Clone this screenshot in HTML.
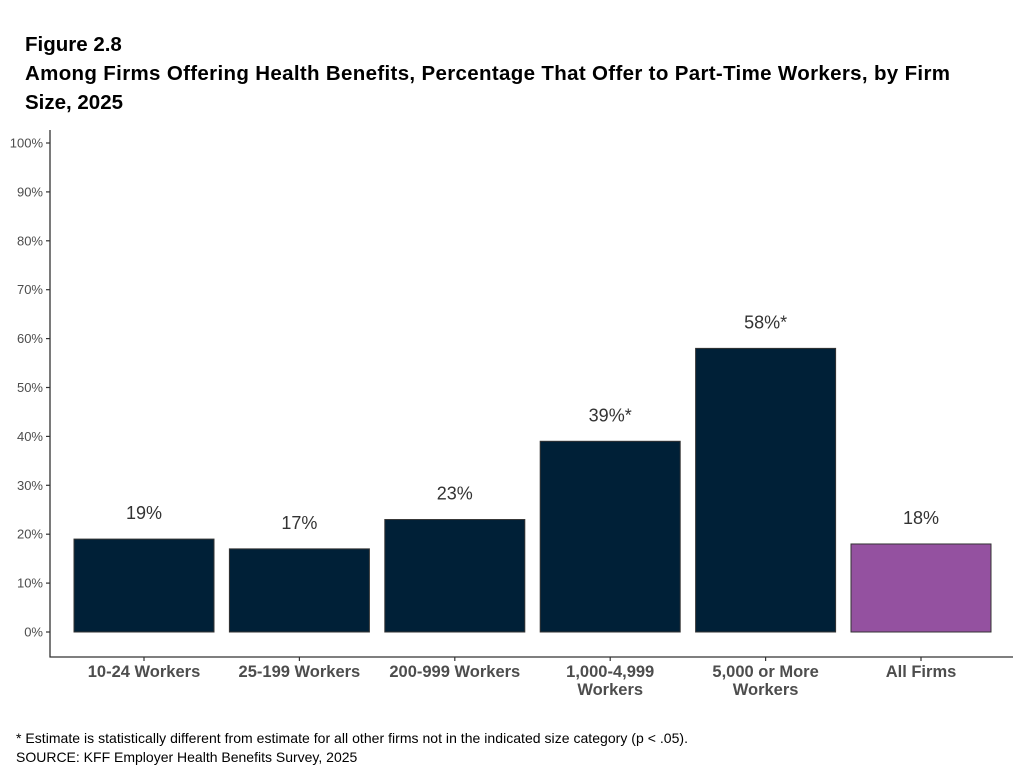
<!DOCTYPE html>
<html><head><meta charset="utf-8"><style>
body{margin:0;background:#fff;width:1023px;height:770px;overflow:hidden;font-family:"Liberation Sans",Arial,sans-serif}
</style></head><body>
<svg width="1023" height="770" xmlns="http://www.w3.org/2000/svg">
<text x="25" y="51" font-size="20.5" font-weight="bold" fill="#000">Figure 2.8</text>
<text x="25" y="80" font-size="20.5" font-weight="bold" fill="#000" textLength="925">Among Firms Offering Health Benefits, Percentage That Offer to Part-Time Workers, by Firm</text>
<text x="25" y="109" font-size="20.5" font-weight="bold" fill="#000">Size, 2025</text>
<g id="yaxis"></g>
<g id="bars"></g>
<g id="xaxis"></g>
<line x1="50" y1="130" x2="50" y2="657.5" stroke="#333" stroke-width="1.3"/>
<line x1="49.5" y1="657" x2="1013" y2="657" stroke="#333" stroke-width="1.3"/>
<text x="16" y="743" font-size="14" fill="#000" textLength="672">* Estimate is statistically different from estimate for all other firms not in the indicated size category (p &lt; .05).</text>
<text x="16" y="762" font-size="14" fill="#000">SOURCE: KFF Employer Health Benefits Survey, 2025</text>
</svg>
<script>
const categories=[["10-24 Workers"],["25-199 Workers"],["200-999 Workers"],["1,000-4,999","Workers"],["5,000 or More","Workers"],["All Firms"]];
const values=[19,17,23,39,58,18];
const labels=["19%","17%","23%","39%*","58%*","18%"];
const yTicks=[0,10,20,30,40,50,60,70,80,90,100];
const NS="http://www.w3.org/2000/svg";
const y=v=>632-v*4.89;
const bandW=155.4;
const xc=i=>144+bandW*i;
function mk(t,a,p){const e=document.createElementNS(NS,t);for(const k in a)e.setAttribute(k,a[k]);p.appendChild(e);return e;}
const ya=document.getElementById('yaxis'),bg=document.getElementById('bars'),xa=document.getElementById('xaxis');
yTicks.forEach(v=>{
 const t=mk('text',{x:43,y:y(v)+4.5,'font-size':13,fill:'#4d4d4d','text-anchor':'end'},ya);t.textContent=v+'%';
 
 
 const l=mk('line',{x1:46,x2:50,y1:y(v),y2:y(v),stroke:'#333','stroke-width':1.2},ya);
 
 
});
values.forEach((v,i)=>{
 const c=xc(i);
 const r=mk('rect',{x:c-70,y:y(v),width:140,height:y(0)-y(v),fill:i==5?'#9451a0':'#002037',stroke:'#333','stroke-width':1},bg);
 
 
 const t=mk('text',{x:c,y:y(v)-20,'font-size':18,fill:'#333','text-anchor':'middle'},bg);t.textContent=labels[i];
 
 
 const tk=mk('line',{x1:c,x2:c,y1:657,y2:661,stroke:'#333','stroke-width':1.2},xa);
 
 
 categories[i].forEach((s,j)=>{
  const tt=mk('text',{x:c,y:677+j*18,'font-size':16.5,'font-weight':'bold',fill:'#4d4d4d','text-anchor':'middle'},xa);tt.textContent=s;
  
  
 });
});
</script>
</body></html>
